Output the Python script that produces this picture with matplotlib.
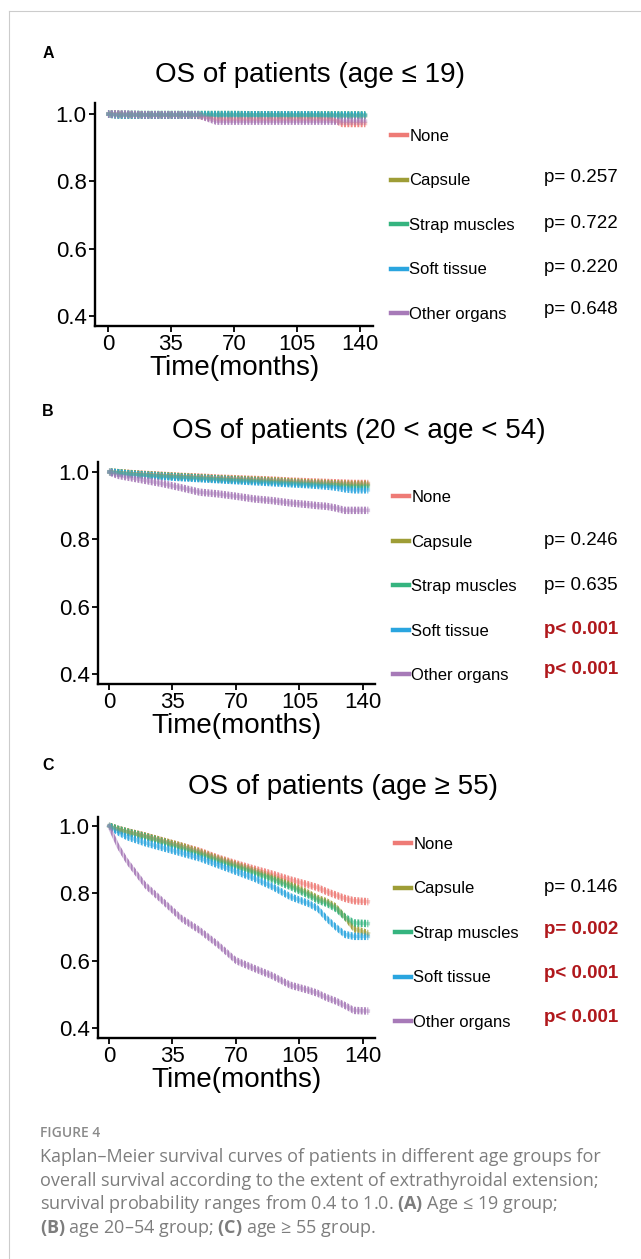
import numpy as np
import matplotlib.pyplot as plt
from matplotlib.lines import Line2D

W, H = 641, 1259
plt.rcParams['font.family'] = ['Liberation Sans', 'DejaVu Sans']
plt.rcParams['mathtext.fontset'] = 'custom'
plt.rcParams['mathtext.rm'] = 'Open Sans'
plt.rcParams['mathtext.bf'] = 'Open Sans:bold'
plt.rcParams['hatch.linewidth'] = 1.4

# groups and colours
groups = ['None', 'Capsule', 'Strap muscles', 'Soft tissue', 'Other organs']
colors = ['#EE7B76', '#9E9D36', '#35B47F', '#2AA5DF', '#A77AB8']

# survival at these months
months = [0, 5, 10, 20, 30, 40, 50, 60, 70, 80, 90, 100, 110, 115, 120, 125, 130, 135, 143]

# A: age <= 19
a_none = [1.0, 1.0, 0.998, 0.998, 0.997, 0.997, 0.996, 0.986, 0.986, 0.986, 0.986, 0.986, 0.986, 0.986, 0.986, 0.985, 0.972, 0.972, 0.972]
a_capsule = [1.0, 0.997, 0.997, 0.997, 0.997, 0.997, 0.997, 0.997, 0.997, 0.997, 0.997, 0.996, 0.996, 0.996, 0.996, 0.996, 0.995, 0.995, 0.995]
a_strap = [1.0, 1.0, 1.0, 0.999, 0.999, 0.999, 0.999, 0.999, 0.999, 0.998, 0.998, 0.998, 0.998, 0.998, 0.998, 0.998, 0.998, 0.998, 0.998]
a_soft = [1.0, 0.997, 0.997, 0.997, 0.997, 0.997, 0.997, 0.997, 0.997, 0.997, 0.997, 0.997, 0.997, 0.997, 0.996, 0.996, 0.996, 0.996, 0.996]
a_other = [1.0, 1.0, 1.0, 0.998, 0.998, 0.998, 0.998, 0.979, 0.979, 0.979, 0.979, 0.979, 0.979, 0.979, 0.979, 0.979, 0.979, 0.979, 0.979]

# B: 20 < age < 54
b_none = [1.0, 0.998, 0.996, 0.993, 0.990, 0.987, 0.985, 0.982, 0.980, 0.978, 0.976, 0.973, 0.971, 0.970, 0.969, 0.968, 0.967, 0.966, 0.966]
b_capsule = [1.0, 0.998, 0.996, 0.992, 0.989, 0.986, 0.983, 0.980, 0.978, 0.976, 0.974, 0.971, 0.968, 0.967, 0.966, 0.965, 0.964, 0.963, 0.963]
b_strap = [1.0, 0.998, 0.995, 0.991, 0.988, 0.985, 0.982, 0.979, 0.976, 0.974, 0.971, 0.968, 0.965, 0.964, 0.963, 0.962, 0.960, 0.958, 0.958]
b_soft = [1.0, 0.997, 0.994, 0.990, 0.986, 0.983, 0.980, 0.977, 0.974, 0.971, 0.968, 0.965, 0.962, 0.960, 0.958, 0.955, 0.950, 0.947, 0.947]
b_other = [1.0, 0.990, 0.985, 0.975, 0.965, 0.953, 0.940, 0.935, 0.928, 0.920, 0.915, 0.908, 0.903, 0.900, 0.898, 0.893, 0.886, 0.886, 0.886]

# C: age >= 55
c_none = [1.0, 0.990, 0.983, 0.970, 0.955, 0.940, 0.925, 0.905, 0.888, 0.872, 0.857, 0.840, 0.825, 0.817, 0.805, 0.795, 0.785, 0.778, 0.775]
c_capsule = [1.0, 0.990, 0.983, 0.970, 0.955, 0.940, 0.922, 0.902, 0.884, 0.866, 0.847, 0.825, 0.800, 0.785, 0.775, 0.760, 0.730, 0.695, 0.680]
c_strap = [1.0, 0.990, 0.982, 0.968, 0.952, 0.935, 0.918, 0.898, 0.880, 0.862, 0.842, 0.820, 0.795, 0.780, 0.770, 0.755, 0.730, 0.712, 0.710]
c_soft = [1.0, 0.982, 0.968, 0.950, 0.935, 0.920, 0.905, 0.885, 0.865, 0.845, 0.820, 0.790, 0.770, 0.755, 0.725, 0.700, 0.678, 0.672, 0.672]
c_other = [1.0, 0.940, 0.895, 0.824, 0.775, 0.725, 0.690, 0.648, 0.600, 0.577, 0.555, 0.527, 0.512, 0.503, 0.490, 0.480, 0.467, 0.452, 0.450]

pvals_a = ['', 'p= 0.257', 'p= 0.722', 'p= 0.220', 'p= 0.648']
pvals_b = ['', 'p= 0.246', 'p= 0.635', 'p< 0.001', 'p< 0.001']
pvals_c = ['', 'p= 0.146', 'p= 0.002', 'p< 0.001', 'p< 0.001']
sig_a = [False, False, False, False, False]
sig_b = [False, False, False, True, True]
sig_c = [False, False, True, True, True]

xticks = [0, 35, 70, 105, 140]
yticks = [0.4, 0.6, 0.8, 1.0]

fig = plt.figure(figsize=(W / 100, H / 100), dpi=100)


def fx(x):
    return x / W


def fy(y):
    return 1 - y / H


def panel(tag, title, box, xlim, ylim, curves, pvals, sig, title_xy, tag_y, leg_xy, p_y):
    l, t, r, b = box
    ax = fig.add_axes([fx(l), fy(b), (r - l) / W, (b - t) / H])
    for vals, c in zip(curves, colors):
        v = np.array(vals)
        ax.plot(months, v, color=c, lw=2.6, alpha=0.4, solid_joinstyle='round')
        ax.fill_between(months, v - 0.011, v + 0.011, facecolor='none',
                        edgecolor=c, hatch='|||||', linewidth=0, alpha=0.9)
    ax.set_xlim(*xlim)
    ax.set_ylim(*ylim)
    ax.set_xticks(xticks)
    ax.set_yticks(yticks)
    ax.set_yticklabels([f'{v:.1f}' for v in yticks])
    for s in ['top', 'right']:
        ax.spines[s].set_visible(False)
    for s in ['left', 'bottom']:
        ax.spines[s].set_linewidth(1.7)
    ax.tick_params(labelsize=16, length=4, width=1.3, pad=2, colors='black')
    ax.set_xlabel('Time(months)', fontsize=20, labelpad=0)

    fig.text(fx(title_xy[0]), fy(title_xy[1]), title, fontsize=20,
             ha='center', va='center')
    fig.text(fx(48), fy(tag_y), tag, fontsize=11.5, weight='bold',
             ha='center', va='center')

    handles = [Line2D([], [], color=c, lw=3.2) for c in colors]
    ax.legend(handles, groups, loc='upper left', frameon=False, fontsize=12,
              bbox_to_anchor=(fx(leg_xy[0]), fy(leg_xy[1])),
              bbox_transform=fig.transFigure, borderpad=0, borderaxespad=0,
              handlelength=0.95, handletextpad=0.15, labelspacing=1.77)

    for txt, s, yy in zip(pvals[1:], sig[1:], p_y):
        fig.text(fx(618), fy(yy), txt, fontsize=13.5, ha='right', va='center',
                 color='#B0181C' if s else 'black',
                 weight='bold' if s else 'normal')
    return ax


panel('A', 'OS of patients (age ≤ 19)', (95, 103, 373, 326),
      (-7.2, 147.2), (0.370, 1.033),
      [a_none, a_capsule, a_strap, a_soft, a_other], pvals_a, sig_a,
      (310, 75), 54, (391, 129), [178, 223, 267, 310])

panel('B', 'OS of patients (20 < age < 54)', (98, 462, 375, 684),
      (-6.06, 146.7), (0.370, 1.0297),
      [b_none, b_capsule, b_strap, b_soft, b_other], pvals_b, sig_b,
      (359, 431), 411, (393, 490), [540, 585, 629, 670])

panel('C', 'OS of patients (age ≥ 55)', (98, 817, 375, 1038),
      (-6.06, 146.7), (0.370, 1.0267),
      [c_none, c_capsule, c_strap, c_soft, c_other], pvals_c, sig_c,
      (343, 787), 766, (395, 837), [887, 930, 974, 1017])

# caption
cap_kw = dict(fontsize=13, color='#7d7d7d', family=['Open Sans', 'DejaVu Sans'],
              ha='left', va='center')
fig.text(fx(40), fy(1133), 'FIGURE 4', fontsize=10, color='#8a8a8a',
         weight='semibold', family=['Open Sans', 'DejaVu Sans'], ha='left', va='center')
lines = [
    'Kaplan–Meier survival curves of patients in different age groups for',
    'overall survival according to the extent of extrathyroidal extension;',
    r'survival probability ranges from 0.4 to 1.0. $\mathbf{(A)}$ Age ≤ 19 group;',
    r'$\mathbf{(B)}$ age 20–54 group; $\mathbf{(C)}$ age ≥ 55 group.',
]
for i, s in enumerate(lines):
    fig.text(fx(40), fy(1157 + 23.7 * i), s, **cap_kw)

# page frame
fig.add_artist(Line2D([fx(9), 1], [fy(11), fy(11)], color='#cccccc', lw=0.8))
fig.add_artist(Line2D([fx(9), fx(9)], [fy(11), 0], color='#cccccc', lw=0.8))

fig.savefig('out.png', dpi=100)
